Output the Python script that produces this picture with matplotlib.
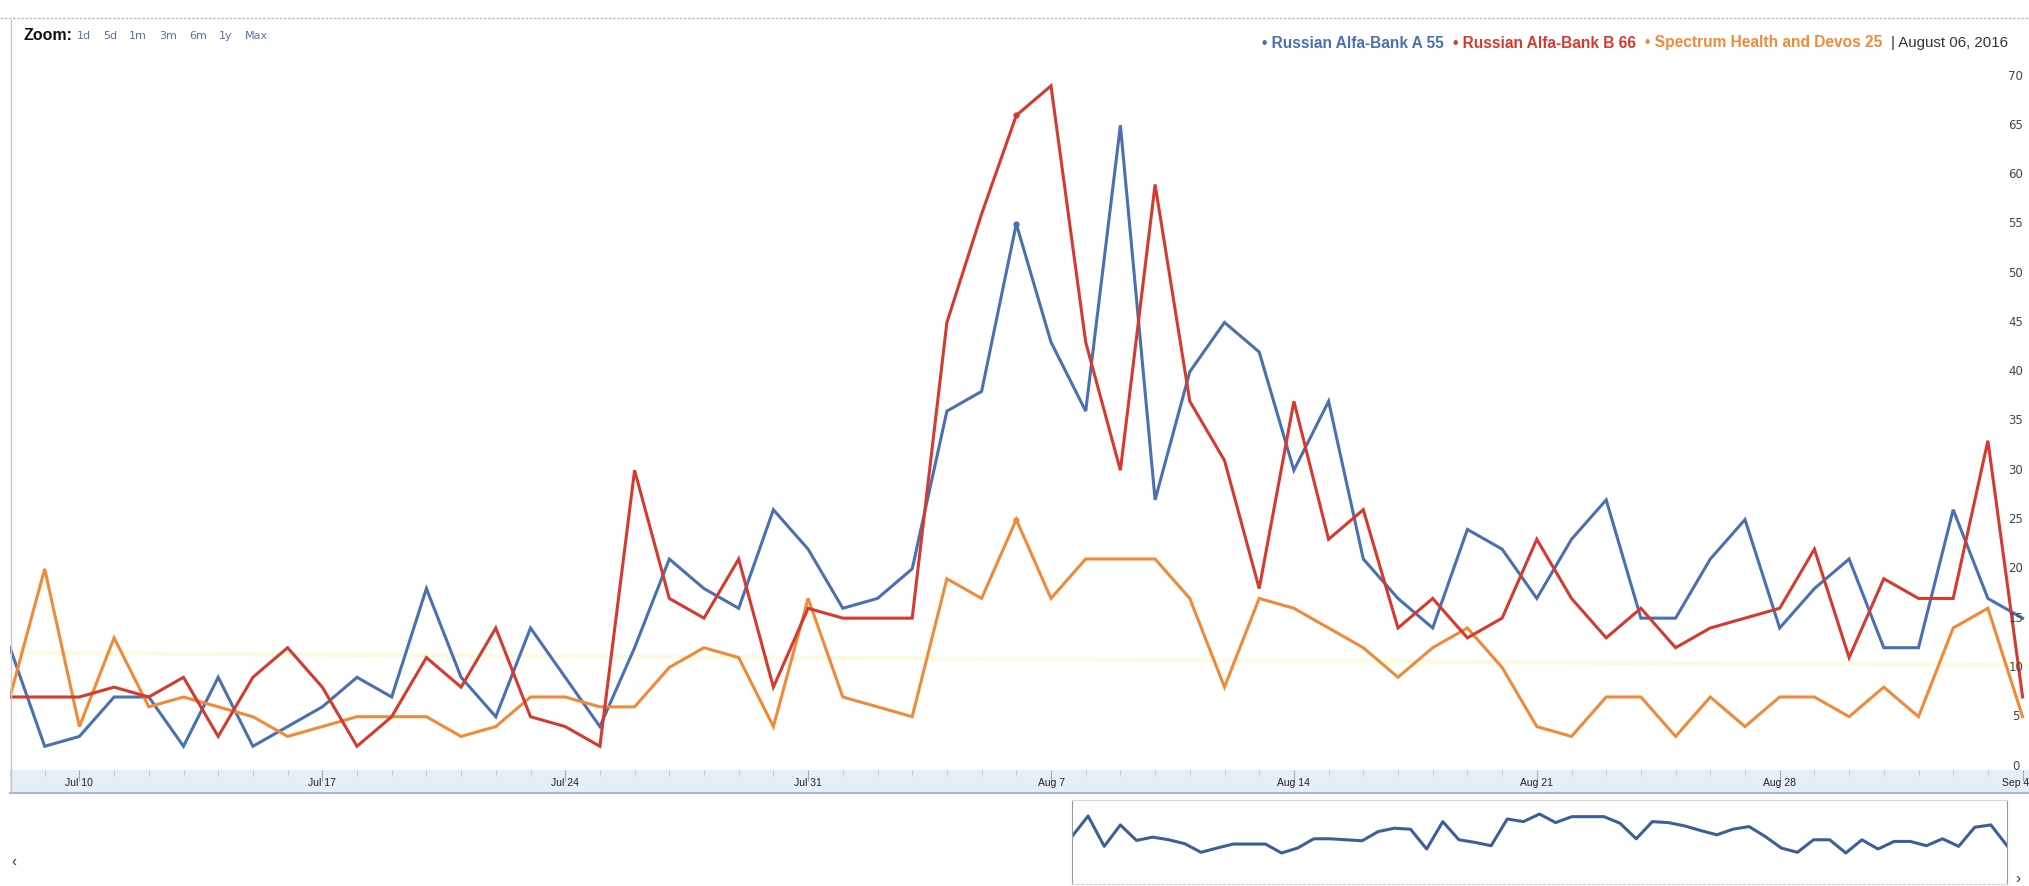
import matplotlib
matplotlib.use("Agg")
import matplotlib.pyplot as plt
from matplotlib.lines import Line2D
import pandas as pd

# figure size in pixels, everything below is laid out in pixel units of the reference
W, H = 2029, 886
DPI = 100

dates = pd.date_range("2016-07-08", periods=59, freq="D")

alfa_a = [12, 2, 3, 7, 7, 2, 9, 2, 4, 6, 9, 7, 18, 9, 5, 14, 9, 4, 12, 21,
          18, 16, 26, 22, 16, 17, 20, 36, 38, 55, 43, 36, 65, 27, 40, 45, 42, 30, 37, 21,
          17, 14, 24, 22, 17, 23, 27, 15, 15, 21, 25, 14, 18, 21, 12, 12, 26, 17, 15]
alfa_b = [7, 7, 7, 8, 7, 9, 3, 9, 12, 8, 2, 5, 11, 8, 14, 5, 4, 2, 30, 17,
          15, 21, 8, 16, 15, 15, 15, 45, 56, 66, 69, 43, 30, 59, 37, 31, 18, 37, 23, 26,
          14, 17, 13, 15, 23, 17, 13, 16, 12, 14, 15, 16, 22, 11, 19, 17, 17, 33, 7]
devos = [7, 20, 4, 13, 6, 7, 6, 5, 3, 4, 5, 5, 5, 3, 4, 7, 7, 6, 6, 10,
         12, 11, 4, 17, 7, 6, 5, 19, 17, 25, 17, 21, 21, 21, 17, 8, 17, 16, 14, 12,
         9, 12, 14, 10, 4, 3, 7, 7, 3, 7, 4, 7, 7, 5, 8, 5, 14, 16, 5]

# small overview line in the navigator (no scale shown, arbitrary units)
nav_values = [14.0, 26.4, 8.0, 21.0, 11.6, 13.6, 12.0, 9.6, 4.4, 7.0, 9.4, 9.4, 9.4, 4.0, 7.0,
              12.6, 12.6, 12.0, 11.4, 17.0, 19.0, 18.4, 6.4, 23.0, 12.0, 10.4, 8.4, 24.6, 23.0,
              27.6, 22.4, 26.0, 26.0, 26.0, 22.0, 12.6, 23.0, 22.4, 20.4, 17.6, 15.0, 18.4, 20.0,
              14.0, 7.0, 4.4, 12.0, 12.0, 4.0, 12.0, 6.4, 11.0, 11.0, 8.4, 12.6, 8.0, 19.6, 21.0, 8.4]

series_names = ["Russian Alfa-Bank A", "Russian Alfa-Bank B", "Spectrum Health and Devos"]
series_colors = ["#4a70b2", "#d43a2e", "#f08a38"]
y_ticks = list(range(0, 75, 5))
zoom_links = ["1d", "5d", "1m", "3m", "6m", "1y", "Max"]
highlight_date = pd.Timestamp("2016-08-06")
# faint yellow highlighter streak visible on the scanned page
streak_level = [11.5, 10.2]

DAY_PX = 34.7
X0, X1 = 10, W


def fx(px):
    return px / W


def fy(py):
    return 1 - py / H


fig = plt.figure(figsize=(W / DPI, H / DPI), dpi=DPI)
fig.patch.set_facecolor("white")
plt.rcParams["font.family"] = ["Liberation Sans", "DejaVu Sans"]

x = list(range(len(dates)))
xmax = (X1 - X0) / DAY_PX
hl = list(dates).index(highlight_date)

# main chart: value 0 sits at y=766px, 70 at y=76px
y_top, y_bot = 20, 770
px_per_unit = (766 - 76) / 70
ax = fig.add_axes([fx(X0), fy(y_bot), fx(X1) - fx(X0), fy(y_top) - fy(y_bot)])
ax.set_xlim(0, xmax)
ax.set_ylim((766 - y_bot) / px_per_unit, (766 - y_top) / px_per_unit)
for s in ax.spines.values():
    s.set_visible(False)
ax.set_xticks([])
ax.set_yticks([])

ax.plot([0, xmax], streak_level, color="#f8ec8a", alpha=0.25, lw=3, solid_capstyle="butt")

for vals, color in [(alfa_a, series_colors[0]), (devos, series_colors[2]), (alfa_b, series_colors[1])]:
    ax.plot(x, vals, color=color, lw=2.2, solid_joinstyle="miter")
    ax.plot(x[hl], vals[hl], "o", color=color, ms=3.5)

for v in y_ticks:
    ax.text(0.9935, v, str(v), transform=ax.get_yaxis_transform(), ha="center", va="center",
            fontsize=8.5, color="#444444", family="DejaVu Sans")

# date band under the chart
band = fig.add_axes([fx(X0), fy(793), fx(X1) - fx(X0), fy(770) - fy(793)])
band.set_facecolor("#e6eef7")
band.set_xlim(0, xmax)
band.set_ylim(0, 1)
band.set_yticks([])
for side in ["top", "left", "right"]:
    band.spines[side].set_visible(False)
band.spines["bottom"].set_color("#a8b7cb")
band.spines["bottom"].set_linewidth(1.5)
band.xaxis.set_ticks_position("top")
major = [i for i, d in enumerate(dates) if d.dayofweek == 6]
band.set_xticks(major)
band.set_xticks(x, minor=True)
band.tick_params(which="major", direction="in", length=8, color="#a0aabb", labeltop=False)
band.tick_params(which="minor", direction="in", length=4, color="#b9c3d2", labeltop=False)
for i in major:
    d = dates[i]
    # the last label sits on the right edge, keep it inside the picture
    last = i == major[-1] and i > xmax - 1
    band.text(xmax if last else i, 0.42, f"{d:%b} {d.day}", ha="right" if last else "center",
              va="center", fontsize=7.5, color="#222222")

# left and top frame of the widget
fig.add_artist(Line2D([fx(11), fx(11)], [fy(20), fy(793)], color="#c8c8c8", lw=1))
fig.add_artist(Line2D([fx(0), fx(W)], [fy(18), fy(18)], color="#bdbdbd", lw=1, ls=(0, (2, 1))))

# navigator
nav = fig.add_axes([fx(1072), fy(884), fx(2007) - fx(1072), fy(800) - fy(884)])
nav.set_xlim(0, len(nav_values) - 1)
nav.set_ylim(-14.8, 36.1)
nav.set_xticks([])
nav.set_yticks([])
nav.patch.set_alpha(0)
for side in ["left", "right"]:
    nav.spines[side].set_color("#9a9a9a")
nav.spines["top"].set_color("#d5d5d5")
nav.spines["bottom"].set_color("#cfcfcf")
nav.spines["bottom"].set_linestyle((0, (2, 2)))
nav.plot(range(len(nav_values)), nav_values, color="#3d5f98", lw=2.2)
fig.text(fx(14), fy(862), "‹", fontsize=11, color="#333333", ha="center", va="center")
fig.text(fx(2018), fy(879), "›", fontsize=11, color="#333333", ha="center", va="center")

# header: zoom links and legend
renderer = fig.canvas.get_renderer()


def chain(x_px, y_px, pieces, gap):
    for text, kw in pieces:
        t = fig.text(fx(x_px), fy(y_px), text, va="center", ha="left", **kw)
        bb = t.get_window_extent(renderer)
        x_px += bb.width + gap


t = fig.text(fx(24), fy(36), "Zoom:", fontsize=11.5, weight="bold", color="#111111", va="center")
zx = 24 + t.get_window_extent(renderer).width + 4
chain(zx, 36, [(z, dict(fontsize=8, color="#5a6fa8", family="DejaVu Sans")) for z in zoom_links], 12)

values = [alfa_a[hl], alfa_b[hl], devos[hl]]
pieces = [(f"\u2022 {n} {v}", dict(fontsize=11.2, weight="bold", color=c))
          for n, v, c in zip(series_names, values, series_colors)]
pieces.append((f"| {highlight_date:%B %d, %Y}", dict(fontsize=10.8, color="#333333")))
chain(1262, 43, pieces, 9)

fig.savefig("out.png", dpi=DPI, facecolor="white")
